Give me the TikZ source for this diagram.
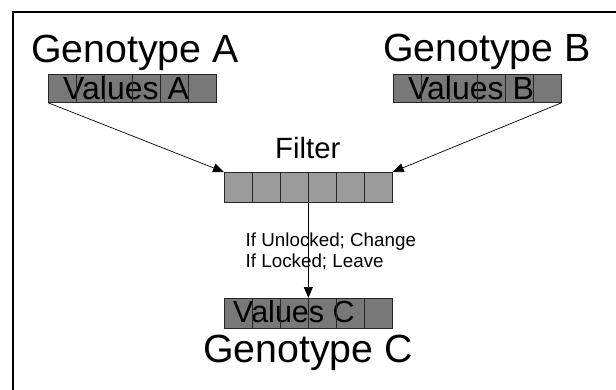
\documentclass[tikz,border=0pt]{standalone}
\usepackage{fontspec}
\setmainfont{Liberation Sans}
\usetikzlibrary{arrows.meta}
\definecolor{valgray}{RGB}{120,120,120}
\definecolor{filtgray}{RGB}{155,155,155}
\newcommand{\mycells}[1]{\foreach \i in {1,...,5}{\draw[black!85, line width=0.7pt] ([xshift=28*\i pt]#1.north west) -- ([xshift=28*\i pt]#1.south west);}}
\begin{document}
\begin{tikzpicture}[x=1pt,y=-1pt,
  rowbox/.style={draw=black!85, line width=0.7pt, minimum width=168pt, inner sep=0pt, anchor=north west},
  valbox/.style={rowbox, fill=valgray, minimum height=28pt},
  filtbox/.style={rowbox, fill=filtgray, minimum height=30pt},
  bigtext/.style={anchor=base west, inner sep=0pt, font=\fontsize{39.3}{41}\selectfont},
  valtext/.style={anchor=base west, inner sep=0pt, font=\fontsize{32}{34}\selectfont},
  labtext/.style={anchor=base west, inner sep=0pt, font=\fontsize{18.8}{20}\selectfont},
  conn/.style={line width=0.7pt, -{Triangle[length=11pt,width=9pt]}}]
\useasboundingbox (0,0) rectangle (616,390);
\fill[white] (0,0) rectangle (616,390);
\draw[line width=2pt] (13,390) -- (13,12) -- (616,12);
% boxes
\node[valbox] (A) at (48,74) {};
\node[valbox] (B) at (393,74) {};
\node[filtbox] (F) at (224,172) {};
\node[valbox, minimum height=30pt] (C) at (224,298) {};
% texts
\node[bigtext] (gA) at (31,63) {Genotype A};
\node[bigtext] (gB) at (383,62) {Genotype B};
\node[bigtext] (gC) at (203,362) {Genotype C};
\node[valtext] (vA) at (63,100) {Values A};
\node[valtext] (vB) at (408,100) {Values B};
\node[valtext, font=\fontsize{30.5}{32}\selectfont] (vC) at (233,322) {Values C};
\node[anchor=base west, inner sep=0pt, font=\fontsize{29.3}{31}\selectfont] (ft) at (275,159) {Filter};
\node[labtext] (l1) at (245.5,247) {If Unlocked; Change};
\node[labtext] (l2) at (245.5,268) {If Locked; Leave};
% cells
\mycells{A}
\mycells{B}
\mycells{F}
\mycells{C}
% connectors
\draw[conn] (A.south west) -- (F.north west);
\draw[conn] (B.south east) -- (F.north east);
\draw[conn] (F.south) -- (C.north);
\end{tikzpicture}
\end{document}
